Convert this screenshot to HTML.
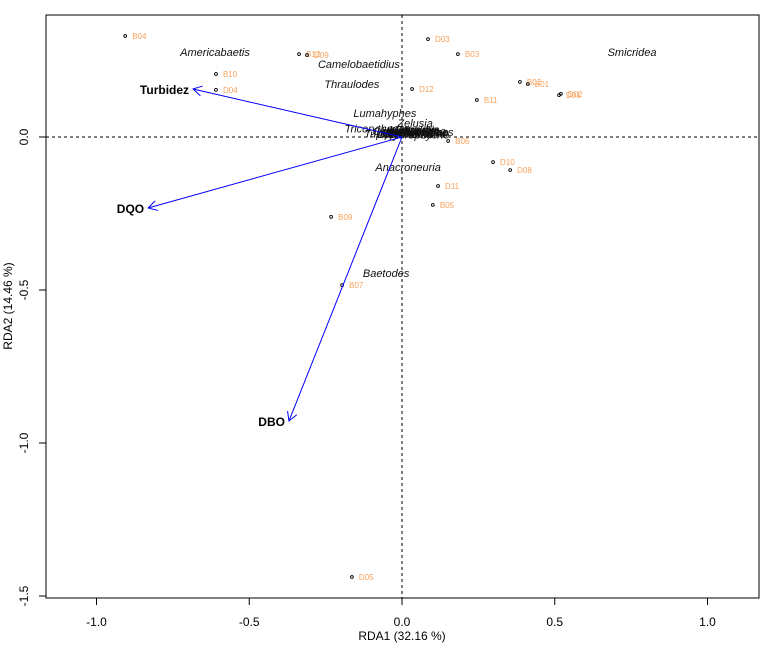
<!DOCTYPE html>
<html><head><meta charset="utf-8"><style>
body{margin:0;background:#fff;}
svg{display:block;font-family:"Liberation Sans",Arial,sans-serif;}
</style></head><body>
<svg id="chart" width="775" height="645" viewBox="0 0 775 645" xmlns="http://www.w3.org/2000/svg">
<rect x="0" y="0" width="775" height="645" fill="#fff"/>
<g id="plot"></g>
</svg>
<script>
const xTicks=[-1.0,-0.5,0.0,0.5,1.0];
const yTicks=[0.0,-0.5,-1.0,-1.5];
const siteNames=["B04","B10","D04","B12","D09","D03","B03","D12","B11","B02","B01","D01","D02","B06","D10","D08","D11","B05","B09","B07","D05"];
const siteX=[-0.906,-0.609,-0.609,-0.337,-0.311,0.085,0.183,0.033,0.245,0.386,0.412,0.514,0.520,0.151,0.298,0.354,0.118,0.101,-0.232,-0.196,-0.164];
const siteY=[0.330,0.206,0.154,0.271,0.268,0.320,0.271,0.157,0.121,0.180,0.173,0.137,0.141,-0.013,-0.082,-0.108,-0.160,-0.222,-0.261,-0.484,-1.438];
const spNames=["Americabaetis","Camelobaetidius","Thraulodes","Lumahyphes","Zelusia","Smicridea","Anacroneuria","Baetodes","Tricorythodes","Leptohyphes","Farrodes","Simuliidae","Chironomidae","Hydroptila","Leptonema","Traverhyphes","Tupiperla","Oligochaeta","Elmidae","Hydropsyche","Heterelmis","Macrelmis"];
const spX=[-0.612,-0.141,-0.164,-0.056,0.043,0.753,0.020,-0.052,-0.080,0.020,0.050,0.070,0.040,0.030,0.010,0.060,-0.050,0.000,0.080,0.050,0.020,0.040];
const spY=[0.278,0.239,0.173,0.078,0.046,0.278,-0.098,-0.444,0.028,0.018,0.025,0.016,0.012,0.022,0.010,0.016,0.012,0.020,0.020,0.008,0.014,0.024];
const envNames=["Turbidez","DQO","DBO"];
const envX=[-0.684,-0.831,-0.370];
const envY=[0.157,-0.232,-0.928];

const L=46,R=759,T=15,B=598;
const sx=v=>402+305.5*v;
const sy=v=>137-306*v;
const NS="http://www.w3.org/2000/svg";
const g=document.getElementById('plot');
function mk(tag,attrs,parent){const e=document.createElementNS(NS,tag);for(const k in attrs)e.setAttribute(k,attrs[k]);(parent||g).appendChild(e);return e;}

let zx=mk('line',{x1:L,x2:R,y1:sy(0),y2:sy(0),stroke:'#000','stroke-dasharray':'3,3','stroke-width':1});


let zy=mk('line',{x1:sx(0),x2:sx(0),y1:T,y2:B,stroke:'#000','stroke-dasharray':'3,3','stroke-width':1});



spNames.forEach((n,i)=>{
  const t=mk('text',{x:sx(spX[i]),y:sy(spY[i])+4,'text-anchor':'middle','font-size':11,'font-style':'italic',fill:'#111'});
  t.textContent=n;
  
  
});

siteNames.forEach((n,i)=>{
  const c=mk('circle',{cx:sx(siteX[i]),cy:sy(siteY[i]),r:1.4,fill:'none',stroke:'#000','stroke-width':0.9});
  
  
  const t=mk('text',{x:sx(siteX[i])+7,y:sy(siteY[i])+3,'font-size':8,fill:'#F7A15B'});
  t.textContent=n;
  
  
});

envNames.forEach((n,i)=>{
  const x0=sx(0),y0=sy(0),x1=sx(envX[i]),y1=sy(envY[i]);
  const a=mk('line',{x1:x0,y1:y0,x2:x1,y2:y1,stroke:'#0000ff','stroke-width':1});
  
  
  const ang=Math.atan2(y1-y0,x1-x0),len=10,sp=0.52;
  const p=`M${x1-len*Math.cos(ang-sp)},${y1-len*Math.sin(ang-sp)} L${x1},${y1} L${x1-len*Math.cos(ang+sp)},${y1-len*Math.sin(ang+sp)}`;
  const h=mk('path',{d:p,fill:'none',stroke:'#0000ff','stroke-width':1});
  
  
  const t=mk('text',{x:x1-4,y:y1+5,'text-anchor':'end','font-size':12,'font-weight':'bold',fill:'#000'});
  t.textContent=n;
  
  
});

const fr=mk('rect',{x:L,y:T,width:R-L,height:B-T,fill:'none',stroke:'#000','stroke-width':1});



xTicks.forEach(v=>{
  const tk=mk('line',{x1:sx(v),x2:sx(v),y1:B,y2:B+7,stroke:'#000'});
  
  
  const t=mk('text',{x:sx(v),y:B+28,'text-anchor':'middle','font-size':12,fill:'#000'});
  t.textContent=v.toFixed(1);
  
  
});
yTicks.forEach(v=>{
  const tk=mk('line',{x1:L-7,x2:L,y1:sy(v),y2:sy(v),stroke:'#000'});
  
  
  const t=mk('text',{x:0,y:0,'text-anchor':'middle','font-size':12,fill:'#000',transform:`translate(28,${sy(v)}) rotate(-90)`});
  t.textContent=v.toFixed(1);
  
  
});
const xt=mk('text',{x:402,y:640,'text-anchor':'middle','font-size':12,fill:'#000'});
xt.textContent='RDA1 (32.16 %)';


const yt=mk('text',{x:0,y:0,'text-anchor':'middle','font-size':12,fill:'#000',transform:'translate(12,306) rotate(-90)'});
yt.textContent='RDA2 (14.46 %)';


</script>
</body></html>
